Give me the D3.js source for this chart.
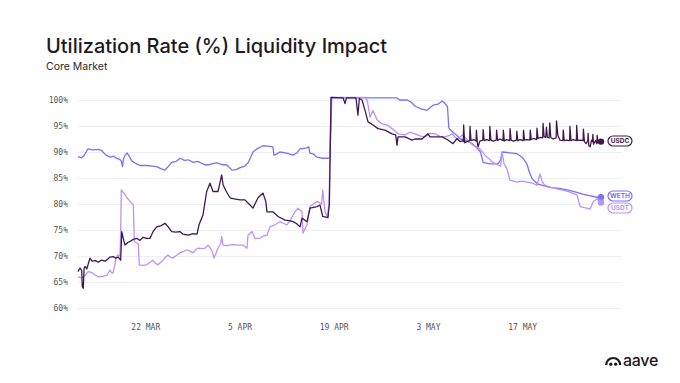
<!DOCTYPE html>
<html>
<head>
<meta charset="utf-8">
<script src="https://cdn.jsdelivr.net/npm/d3@7"></script>
<style>
  body { margin: 0; background: #fff; }
  svg { display: block; }
  .title { font-family: Inter, "Noto Sans", sans-serif; font-weight: 500; fill: #1b1b1f; }
  .sub { font-family: Inter, "Noto Sans", sans-serif; fill: #2a2a2e; }
  .tick text { font-family: "DejaVu Sans Mono", monospace; fill: #555; }
</style>
</head>
<body>
<svg id="chart" width="680" height="383"></svg>
<script>
// start of the series, day offsets are counted from here
const startDate = new Date(2021, 2, 12);

// [day offset, utilization %]
const weth = [
  [0,89.1],[0.5,88.9],[0.9,89.3],[1.3,90.2],[1.5,90.6],[2.2,90.4],[3.0,90.5],[3.5,90.3],[4.0,89.6],[4.3,89.3],
  [4.8,89.0],[5.3,89.2],[5.7,88.8],[6.2,88.6],[6.45,88.2],[6.6,87.2],[6.75,88.6],[7.0,89.4],[7.3,89.8],[7.6,89.2],
  [8.0,88.3],[8.7,87.7],[9.2,87.4],[10.2,87.4],[11.0,87.3],[11.7,87.2],[12.3,86.8],[12.9,86.5],[13.4,87.2],[13.9,88.0],
  [14.6,88.2],[15.2,88.8],[15.8,88.4],[16.4,88.5],[17.1,88.0],[17.8,88.2],[18.9,87.5],[19.6,87.6],[20.6,87.9],[21.3,87.6],
  [22.1,87.5],[22.6,86.9],[22.9,86.5],[23.5,86.6],[24.1,87.0],[24.8,87.3],[25.3,88.0],[26.0,90.0],[26.6,90.6],[27.5,91.2],
  [28.5,91.1],[28.97,91.0],[29.1,89.4],[29.5,89.6],[30.0,90.0],[31.0,89.8],[31.95,89.4],[32.5,89.8],[33.0,90.6],[34.0,90.8],
  [34.3,91.0],[34.45,89.8],[35.0,89.6],[35.5,89.0],[36.2,88.8],[37.15,88.8],[37.44,88.9],[37.7,100.4],[47.4,100.4],[47.8,100.0],
  [48.9,100.0],[49.5,99.6],[50.1,98.8],[51.0,98.3],[51.86,98.0],[52.3,98.5],[52.75,99.0],[53.5,99.2],[54.1,99.8],[54.5,99.4],
  [54.9,98.7],[55.1,94.6],[55.7,93.8],[56.3,93.2],[56.8,92.5],[57.5,92.3],[58.7,91.5],[59.4,90.6],[59.8,90.0],[60.2,88.0],
  [61.2,87.7],[62.4,87.7],[62.8,88.5],[63.0,90.0],[63.8,89.9],[65.2,89.7],[66.0,89.0],[66.7,87.7],[67.1,86.0],[67.5,84.8],
  [68.35,83.8],[70.1,83.2],[71.5,83.0],[72.7,82.7],[74.0,82.3],[75.0,81.9],[76.0,81.6],[77.1,81.3],[77.56,81.3]
];

const usdt = [
  [0,66.0],[0.5,65.8],[1.0,66.2],[1.5,67.0],[2.1,66.8],[2.6,66.3],[3.0,66.0],[3.7,66.1],[4.3,66.3],[4.75,67.3],
  [5.0,66.8],[5.2,66.7],[5.5,68.5],[5.65,69.6],[5.94,70.2],[6.24,70.0],[6.35,75.0],[6.43,82.7],[6.64,82.4],[6.98,81.8],
  [7.28,81.2],[7.73,80.5],[8.22,79.8],[8.3,76.0],[8.37,72.8],[8.96,72.3],[9.1,68.3],[9.6,68.2],[10.2,68.3],[10.7,68.8],
  [11.14,69.2],[11.5,68.6],[11.89,68.3],[12.3,68.8],[12.63,69.2],[13.0,69.8],[13.37,70.2],[13.7,69.8],[14.12,69.6],[14.6,70.1],
  [15.16,70.6],[15.7,70.9],[16.2,71.2],[16.7,70.9],[17.1,70.6],[17.5,71.2],[17.83,71.5],[18.4,71.4],[18.87,71.5],[19.32,72.1],
  [19.6,71.6],[19.91,71.0],[20.21,69.6],[20.5,70.5],[20.8,71.5],[21.2,72.4],[21.35,73.7],[21.55,72.1],[22.1,72.0],[23.0,72.2],
  [24.0,72.1],[24.52,72.1],[25.11,71.5],[25.26,74.0],[25.85,74.7],[26.3,73.4],[27.04,73.4],[27.5,73.8],[28.08,74.0],[28.53,75.6],
  [29.27,76.0],[30.01,76.6],[30.5,76.3],[31.05,76.0],[31.6,77.0],[32.24,78.5],[32.69,79.2],[33.28,78.5],[33.43,74.4],[34.03,76.0],
  [34.47,79.5],[35.51,80.5],[35.96,80.2],[36.2,80.0],[36.36,82.7],[36.7,78.5],[37.04,77.6],[37.3,80.0],[37.6,100.5],[42.65,100.5],
  [43.0,99.8],[43.39,96.7],[43.83,98.0],[44.43,96.2],[45.17,95.4],[45.91,95.2],[46.66,94.5],[47.55,93.5],[48.59,93.3],[49.3,93.8],
  [50.07,93.5],[50.8,93.1],[51.56,92.9],[52.3,93.6],[53.05,93.5],[53.8,93.0],[54.53,92.9],[55.2,93.2],[55.57,93.5],[56.32,92.5],
  [57.21,93.3],[57.8,92.4],[58.69,91.3],[59.73,90.6],[60.48,89.4],[61.66,88.0],[62.41,87.5],[62.8,87.3],[63.0,90.0],[63.3,87.8],
  [63.75,86.7],[64.19,84.6],[65.23,84.2],[66.0,84.4],[66.72,84.2],[67.5,84.0],[68.2,83.6],[68.65,85.8],[69.0,84.2],[69.39,83.6],
  [70.3,83.2],[71.17,82.9],[72.2,82.6],[73.1,82.3],[74.15,81.7],[74.4,80.5],[74.59,79.5],[75.3,79.3],[76.08,79.0],[76.52,80.4],
  [77.12,81.0],[77.56,80.3]
];

const usdc = [
  [0,67.0],[0.3,67.7],[0.55,67.2],[0.64,64.1],[0.79,63.8],[0.9,67.6],[1.04,68.0],[1.3,67.5],[1.78,69.6],[2.08,69.0],
  [2.6,69.1],[3.0,68.8],[3.5,69.2],[4.0,69.0],[4.31,69.3],[4.75,69.8],[5.2,69.9],[5.6,69.6],[6.0,69.8],[6.34,69.2],
  [6.5,74.7],[6.8,73.0],[6.98,72.1],[7.4,72.6],[7.73,72.8],[8.2,73.2],[8.72,73.4],[9.2,73.0],[9.66,73.6],[10.2,73.4],
  [10.7,73.4],[11.2,74.8],[11.69,75.6],[12.3,75.8],[12.93,76.3],[13.4,75.6],[13.92,74.7],[14.5,74.6],[15.16,74.7],[15.6,74.2],
  [16.4,74.0],[17.1,74.3],[17.68,74.2],[17.98,76.0],[18.57,77.9],[19.12,82.4],[19.61,84.0],[20.06,82.4],[20.8,82.4],[21.35,85.6],
  [21.55,83.7],[22.0,82.5],[22.59,81.2],[23.2,81.0],[24.07,80.8],[24.8,80.8],[25.56,79.8],[26.0,79.2],[26.75,81.2],[27.49,82.1],
  [27.9,80.5],[28.08,78.5],[28.97,78.5],[29.72,77.6],[30.76,76.9],[31.4,76.8],[31.95,76.6],[32.5,76.2],[32.99,75.6],[33.28,77.3],
  [34.03,76.6],[34.47,79.2],[35.51,79.5],[35.96,79.8],[36.36,77.6],[37.15,77.4],[37.35,80.0],[37.6,100.5],[39.4,100.4],[39.67,99.3],
  [39.9,100.4],[41.3,100.4],[41.6,97.1],[41.8,100.3],[42.2,100.0],[42.65,98.0],[43.09,95.8],[43.83,95.2],[44.58,94.5],[45.62,94.2],
  [46.66,93.5],[47.2,93.3],[47.4,91.3],[47.55,92.9],[48.59,92.9],[49.63,92.3],[50.07,92.5],[51.11,92.5],[52.0,93.5],[52.3,92.9],
  [53.5,92.9],[54.09,92.9],[54.98,92.3],[55.72,91.6],[56.32,92.6],[56.76,92.0],[57.21,92.2],
  [57.25,92.0],[57.3,95.2],[57.45,91.8],[57.8,92.0],[58.2,92.2],[58.25,94.9],[58.4,92.2],[58.8,92.4],[59.15,92.1],[59.2,94.2],
  [59.35,91.6],[59.45,91.0],[59.7,92.1],[60.15,92.3],[60.2,94.3],[60.35,92.2],[60.7,92.4],[61.15,92.2],[61.2,94.9],[61.35,92.3],
  [61.7,92.1],[62.15,92.3],[62.2,94.2],[62.35,92.2],[62.7,92.5],[63.15,92.2],[63.2,94.2],[63.35,92.1],[63.7,92.4],[64.15,92.2],
  [64.2,94.5],[64.35,92.3],[64.7,92.1],[65.15,92.3],[65.2,94.0],[65.35,92.2],[65.7,92.4],[66.15,92.2],[66.2,94.2],[66.35,92.3],
  [66.7,92.4],[67.15,92.3],[67.2,94.2],[67.35,92.4],[67.7,92.6],[68.15,92.4],[68.2,94.6],[68.35,92.6],[68.7,92.8],[69.05,92.7],
  [69.1,95.5],[69.25,93.0],[69.5,92.8],[69.6,94.8],[69.75,92.8],[70.0,92.7],[70.1,95.6],[70.25,92.8],[70.6,92.5],[71.05,92.7],
  [71.1,96.0],[71.3,93.2],[71.6,92.3],[72.05,92.2],[72.1,94.2],[72.25,92.2],[72.6,92.3],[73.05,92.2],[73.1,94.9],[73.25,92.2],
  [73.6,92.4],[74.05,92.2],[74.1,95.1],[74.25,92.2],[74.6,92.3],[75.05,92.2],[75.1,94.4],[75.25,92.0],[75.5,91.6],[75.75,92.2],
  [75.8,93.6],[75.9,91.2],[76.1,91.0],[76.3,92.3],[76.45,92.0],[76.5,93.4],[76.6,91.5],[76.9,92.2],[77.1,91.6],[77.15,93.2],
  [77.25,91.8],[77.56,92.0]
];

const seriesNames = ["WETH", "USDT", "USDC"];
const seriesColors = ["#7b70f6", "#b893f8", "#40194f"];
const yTicks = [60, 65, 70, 75, 80, 85, 90, 95, 100];
const xTickDates = [new Date(2021, 2, 22), new Date(2021, 3, 5), new Date(2021, 3, 19), new Date(2021, 4, 3), new Date(2021, 4, 17)];

const svg = d3.select("#chart");
const left = 78, gridRight = 622;

const x = d3.scaleTime()
  .domain([startDate, d3.timeDay.offset(startDate, 78)])
  .range([left, left + 78 * 6.73]);
const y = d3.scaleLinear().domain([60, 100]).range([308, 100]);

const toDate = d => new Date(startDate.getTime() + d * 86400000);

// titles
svg.append("text").attr("class", "title")
  .attr("x", 46).attr("y", 53).attr("font-size", 20)
  .text("Utilization Rate (%) Liquidity Impact");
svg.append("text").attr("class", "sub")
  .attr("x", 46).attr("y", 70).attr("font-size", 10.5)
  .text("Core Market");

// y gridlines + labels
const yAxis = svg.append("g")
  .attr("transform", `translate(${left},0)`)
  .call(d3.axisLeft(y).tickValues(yTicks).tickFormat(d => d + "%")
    .tickSize(-(gridRight - left)).tickPadding(10));
yAxis.select(".domain").remove();
yAxis.selectAll(".tick line").attr("stroke", "#eeeefa").attr("stroke-width", 1);
yAxis.selectAll(".tick text").attr("font-size", 8);

// x labels
const xAxis = svg.append("g")
  .attr("transform", "translate(0,318)")
  .call(d3.axisBottom(x).tickValues(xTickDates)
    .tickFormat(d => d3.timeFormat("%-d %b")(d).toUpperCase()).tickSize(0).tickPadding(6));
xAxis.select(".domain").remove();
xAxis.selectAll(".tick text").attr("font-size", 8);

// lines
const line = d3.line()
  .x(d => x(toDate(d[0])))
  .y(d => y(d[1]));

const allSeries = [weth, usdt, usdc];
allSeries.forEach((s, i) => {
  svg.append("path")
    .datum(s)
    .attr("fill", "none")
    .attr("stroke", seriesColors[i])
    .attr("stroke-width", 1.3)
    .attr("stroke-linejoin", "round")
    .attr("d", line);
});

// end dots and pill labels
const labelY = { WETH: 196, USDT: 208, USDC: 141 };
allSeries.forEach((s, i) => {
  const last = s[s.length - 1];
  const name = seriesNames[i];
  svg.append("circle")
    .attr("cx", x(toDate(last[0])) + 1)
    .attr("cy", y(last[1]))
    .attr("r", 3.2)
    .attr("fill", seriesColors[i]);
  const g = svg.append("g").attr("transform", `translate(620,${labelY[name]})`);
  g.append("rect")
    .attr("x", -12).attr("y", -5).attr("width", 24).attr("height", 10)
    .attr("rx", 5)
    .attr("fill", "#fff")
    .attr("stroke", seriesColors[i])
    .attr("stroke-width", 1.2);
  g.append("text")
    .attr("text-anchor", "middle")
    .attr("dy", "0.35em")
    .attr("font-family", "Inter, sans-serif")
    .attr("font-weight", 700)
    .attr("font-size", 6.5)
    .attr("fill", seriesColors[i])
    .text(name);
});

// aave logo, bottom right
const logo = svg.append("g").attr("transform", "translate(605,365)");
logo.append("path")
  .attr("d", "M1.2,0 A7,7 0 0 1 15.2,0")
  .attr("fill", "none").attr("stroke", "#1b1b1f").attr("stroke-width", 2.2);
logo.append("circle").attr("cx", 5.8).attr("cy", -0.8).attr("r", 1.6).attr("fill", "#1b1b1f");
logo.append("circle").attr("cx", 10.6).attr("cy", -0.8).attr("r", 1.6).attr("fill", "#1b1b1f");
logo.append("text")
  .attr("x", 18).attr("y", 1)
  .attr("font-family", "Inter, sans-serif")
  .attr("font-weight", 500)
  .attr("font-size", 16)
  .attr("letter-spacing", -0.3)
  .attr("fill", "#1b1b1f")
  .text("aave");
</script>
</body>
</html>
